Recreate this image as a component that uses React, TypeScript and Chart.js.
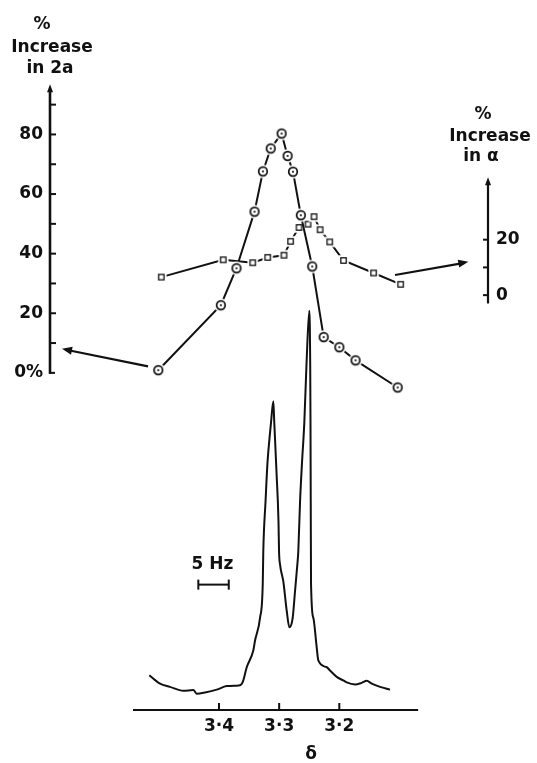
import React, { useEffect, useRef } from 'react';
import { Chart, registerables } from 'chart.js';

Chart.register(...registerables);

// ---- data (δ in ppm) ----
const circleShift = [3.501, 3.397, 3.371, 3.341, 3.327, 3.314, 3.296, 3.286, 3.277, 3.264, 3.245, 3.226, 3.2, 3.173, 3.103];
const circleIncrease = [0.9, 22.7, 35.1, 54.1, 67.6, 75.3, 80.3, 72.8, 67.5, 52.9, 35.7, 12.0, 8.6, 4.2, -4.9];

const squareShift = [3.496, 3.393, 3.344, 3.319, 3.292, 3.281, 3.267, 3.252, 3.242, 3.232, 3.216, 3.193, 3.143, 3.098];
const squareIncrease = [6.5, 12.75, 11.7, 13.6, 14.4, 19.4, 24.4, 25.6, 28.3, 23.6, 19.2, 12.5, 8.0, 3.9];

const spectrumShift = [
  3.5159, 3.4981, 3.4815, 3.4594, 3.4427, 3.4371, 3.4233, 3.4038, 3.3872, 3.3717, 3.3651, 3.3606,
  3.3539, 3.343, 3.3401, 3.3318, 3.3273, 3.3264, 3.3227, 3.3194, 3.3152, 3.3136, 3.3097, 3.3081,
  3.3044, 3.3011, 3.3002, 3.2985, 3.2931, 3.2874, 3.2831, 3.2775, 3.2736, 3.2698, 3.2682, 3.2653,
  3.262, 3.2582, 3.2545, 3.2499, 3.2484, 3.2479, 3.2475, 3.247, 3.2432, 3.2376, 3.2349, 3.2209,
  3.2155, 3.2043, 3.1934, 3.1877, 3.1739, 3.1628, 3.1544, 3.1461, 3.1323, 3.1157,
];
const spectrumIntensity = [
  8.7, 6.6, 5.8, 4.8, 5.0, 4.1, 4.4, 5.1, 6.0, 6.1, 6.2, 7.0,
  10.7, 14.9, 17.4, 23.1, 31.5, 39.7, 52.1, 62.0, 69.4, 71.9, 77.3, 71.9,
  59.5, 47.1, 39.7, 36.4, 32.2, 24.8, 20.7, 23.1, 29.8, 36.4, 39.7, 52.1,
  62.0, 71.9, 86.8, 100, 86.8, 71.9, 52.1, 31.5, 23.1, 15.7, 12.4, 10.7,
  9.9, 8.3, 7.4, 6.9, 6.4, 6.8, 7.3, 6.6, 5.8, 5.1,
];

const shiftTicks = [3.4, 3.3, 3.2];
const leftTicks = [0, 20, 40, 60, 80];
const leftMinorTicks = [10, 20, 30, 40, 50, 60, 70, 80, 90];
const rightTicks = [0, 20];
const rightMinorTicks = [0, 10, 20];

const INK = '#111';
const FONT = 'DejaVu Sans';

function makeMarker(kind: 'circle' | 'square'): HTMLCanvasElement {
  const r = kind === 'circle' ? 4.3 : 2.7;
  const halo = 2.5;
  const size = Math.ceil((r + halo) * 2 + 2);
  const c = document.createElement('canvas');
  c.width = size;
  c.height = size;
  const g = c.getContext('2d')!;
  const m = size / 2;
  g.fillStyle = '#fff';
  g.strokeStyle = INK;
  if (kind === 'circle') {
    g.beginPath();
    g.arc(m, m, r + halo, 0, Math.PI * 2);
    g.fill();
    g.lineWidth = 1.7;
    g.beginPath();
    g.arc(m, m, r, 0, Math.PI * 2);
    g.stroke();
    g.fillStyle = INK;
    g.beginPath();
    g.arc(m, m, 1.1, 0, Math.PI * 2);
    g.fill();
  } else {
    g.fillRect(m - r - halo, m - r - halo, 2 * (r + halo), 2 * (r + halo));
    g.lineWidth = 1.3;
    g.strokeRect(m - r, m - r, 2 * r, 2 * r);
  }
  return c;
}

function arrowHead(ctx: CanvasRenderingContext2D, x0: number, y0: number, x1: number, y1: number, len = 9, half = 3.5) {
  const a = Math.atan2(y1 - y0, x1 - x0);
  ctx.beginPath();
  ctx.moveTo(x1, y1);
  ctx.lineTo(x1 - len * Math.cos(a) + half * Math.sin(a), y1 - len * Math.sin(a) - half * Math.cos(a));
  ctx.lineTo(x1 - len * Math.cos(a) - half * Math.sin(a), y1 - len * Math.sin(a) + half * Math.cos(a));
  ctx.closePath();
  ctx.fill();
}

function seg(ctx: CanvasRenderingContext2D, x0: number, y0: number, x1: number, y1: number) {
  ctx.beginPath();
  ctx.moveTo(x0, y0);
  ctx.lineTo(x1, y1);
  ctx.stroke();
}

const overlay = {
  id: 'overlay',
  afterDraw(chart: any) {
    const { ctx, chartArea, scales } = chart;
    const xs = scales.x;
    const yl = scales.y;
    const yr = scales.y2;
    const ysp = scales.ys;
    ctx.save();
    ctx.strokeStyle = INK;
    ctx.fillStyle = INK;
    ctx.lineCap = 'butt';

    // left axis
    const lx = chartArea.left;
    const l0 = yl.getPixelForValue(0);
    const lTop = yl.getPixelForValue(96.8);
    ctx.lineWidth = 2.6;
    seg(ctx, lx, l0 + 1, lx, lTop + 6);
    ctx.lineWidth = 2;
    seg(ctx, lx - 1, l0, lx + 5, l0);
    leftMinorTicks.forEach((v) => {
      const p = yl.getPixelForValue(v);
      seg(ctx, lx, p, lx + 6, p);
    });
    arrowHead(ctx, lx, l0, lx, lTop, 8, 3);

    // right axis
    const rx = chartArea.right;
    const r0 = yr.getPixelForValue(-3);
    const rTop = yr.getPixelForValue(42.5);
    ctx.lineWidth = 2.2;
    seg(ctx, rx, r0, rx, rTop + 6);
    ctx.lineWidth = 2;
    rightMinorTicks.forEach((v) => {
      const p = yr.getPixelForValue(v);
      seg(ctx, rx - 5, p, rx, p);
    });
    arrowHead(ctx, rx, r0, rx, rTop, 8, 3);

    // x axis
    const by = chartArea.bottom;
    ctx.lineWidth = 2.2;
    seg(ctx, xs.getPixelForValue(3.543), by, xs.getPixelForValue(3.069), by);
    ctx.lineWidth = 2;
    shiftTicks.forEach((v) => {
      const p = xs.getPixelForValue(v);
      seg(ctx, p, by, p, by - 7);
    });

    // pointer arrows
    ctx.lineWidth = 2.2;
    const la0x = xs.getPixelForValue(3.518), la0y = yl.getPixelForValue(2.2);
    const la1x = xs.getPixelForValue(3.661), la1y = yl.getPixelForValue(8.1);
    seg(ctx, la0x, la0y, la1x + 4, la1y + 1);
    arrowHead(ctx, la0x, la0y, la1x, la1y, 10, 4);
    const ra0x = xs.getPixelForValue(3.1074), ra0y = yr.getPixelForValue(7.25);
    const ra1x = xs.getPixelForValue(2.9855), ra1y = yr.getPixelForValue(12.0);
    seg(ctx, ra0x, ra0y, ra1x - 4, ra1y + 1);
    arrowHead(ctx, ra0x, ra0y, ra1x, ra1y, 10, 4);

    // 5 Hz scale bar
    const bx0 = xs.getPixelForValue(3.4344);
    const bx1 = xs.getPixelForValue(3.3838);
    const byy = ysp.getPixelForValue(31.4);
    ctx.lineWidth = 2;
    seg(ctx, bx0, byy, bx1, byy);
    seg(ctx, bx0, byy - 5, bx0, byy + 5);
    seg(ctx, bx1, byy - 5, bx1, byy + 5);

    // texts
    ctx.font = `bold 17px "${FONT}"`;
    ctx.textAlign = 'center';
    ctx.textBaseline = 'middle';
    ctx.fillText('5 Hz', (bx0 + bx1) / 2 - 1, byy - 20);

    ctx.fillText('%', lx - 8, 25);
    ctx.fillText('Increase', lx + 2, 48);
    ctx.fillText('in 2a', lx, 69);

    ctx.fillText('%', rx - 5, 115);
    ctx.fillText('Increase', rx + 2, 137);
    ctx.fillText('in α', rx - 7, 157);

    ctx.fillText('δ', xs.getPixelForValue(3.247), 755);
    ctx.restore();
  },
};

const zeroPad = (s: any) => {
  s.paddingTop = 0;
  s.paddingBottom = 0;
  s.paddingLeft = 0;
  s.paddingRight = 0;
};

export default function App() {
  const ref = useRef<HTMLCanvasElement>(null);

  useEffect(() => {
    if (!ref.current) return;
    const circleData = circleShift.map((x, i) => ({ x, y: circleIncrease[i] }));
    const squareData = squareShift.map((x, i) => ({ x, y: squareIncrease[i] }));
    const spectrumData = spectrumShift.map((x, i) => ({ x, y: spectrumIntensity[i] }));
    const tickFont = { family: FONT, size: 17, weight: 'bold' as const };

    const chart = new Chart(ref.current, {
      type: 'line',
      data: {
        datasets: [
          {
            label: '% increase in 2a',
            data: circleData,
            yAxisID: 'y',
            borderColor: INK,
            borderWidth: 2,
            pointStyle: makeMarker('circle'),
            pointRadius: 5,
            tension: 0,
            fill: false,
          },
          {
            label: '% increase in α',
            data: squareData,
            yAxisID: 'y2',
            borderColor: INK,
            borderWidth: 2,
            pointStyle: makeMarker('square'),
            pointRadius: 4,
            tension: 0,
            fill: false,
          },
          {
            label: 'spectrum',
            data: spectrumData,
            yAxisID: 'ys',
            borderColor: INK,
            borderWidth: 2,
            borderJoinStyle: 'round',
            pointRadius: 0,
            cubicInterpolationMode: 'monotone',
            fill: false,
          },
        ],
      },
      options: {
        animation: false,
        responsive: false,
        devicePixelRatio: 1,
        events: [],
        layout: { padding: 0 },
        plugins: { legend: { display: false }, tooltip: { enabled: false }, title: { display: false } },
        scales: {
          x: {
            type: 'linear',
            reverse: true,
            min: 2.9528,
            max: 3.681,
            border: { display: false },
            grid: { display: false, drawTicks: false },
            ticks: {
              autoSkip: false,
              padding: 6,
              color: INK,
              font: tickFont,
              callback: (v: any) => Number(v).toFixed(1).replace('.', '·'),
            },
            afterBuildTicks: (s: any) => {
              s.ticks = shiftTicks.map((value) => ({ value }));
            },
            afterFit: (s: any) => {
              s.height = 53;
              zeroPad(s);
            },
          },
          y: {
            type: 'linear',
            position: 'left',
            min: -113.12,
            max: 122.76,
            border: { display: false },
            grid: { display: false, drawTicks: false },
            ticks: {
              padding: 7,
              color: INK,
              font: tickFont,
              callback: (v: any) => (Number(v) === 0 ? '0%' : String(v)),
            },
            afterBuildTicks: (s: any) => {
              s.ticks = leftTicks.map((value) => ({ value }));
            },
            afterFit: (s: any) => {
              s.width = 50;
              zeroPad(s);
            },
          },
          y2: {
            type: 'linear',
            position: 'right',
            min: -149.64,
            max: 103.93,
            border: { display: false },
            grid: { display: false, drawTicks: false },
            ticks: {
              padding: 8,
              color: INK,
              font: tickFont,
              callback: (v: any) => String(v),
            },
            afterBuildTicks: (s: any) => {
              s.ticks = rightTicks.map((value) => ({ value }));
            },
            afterFit: (s: any) => {
              s.width = 49;
              zeroPad(s);
            },
          },
          ys: {
            type: 'linear',
            display: false,
            min: 0,
            max: 176.05,
          },
        },
      },
      plugins: [overlay],
    } as any);
    return () => chart.destroy();
  }, []);

  return (
    <div style={{ position: 'absolute', left: 0, top: 0, width: 537, height: 763, background: '#fff' }}>
      <canvas ref={ref} width={537} height={763} style={{ display: 'block' }} />
    </div>
  );
}
